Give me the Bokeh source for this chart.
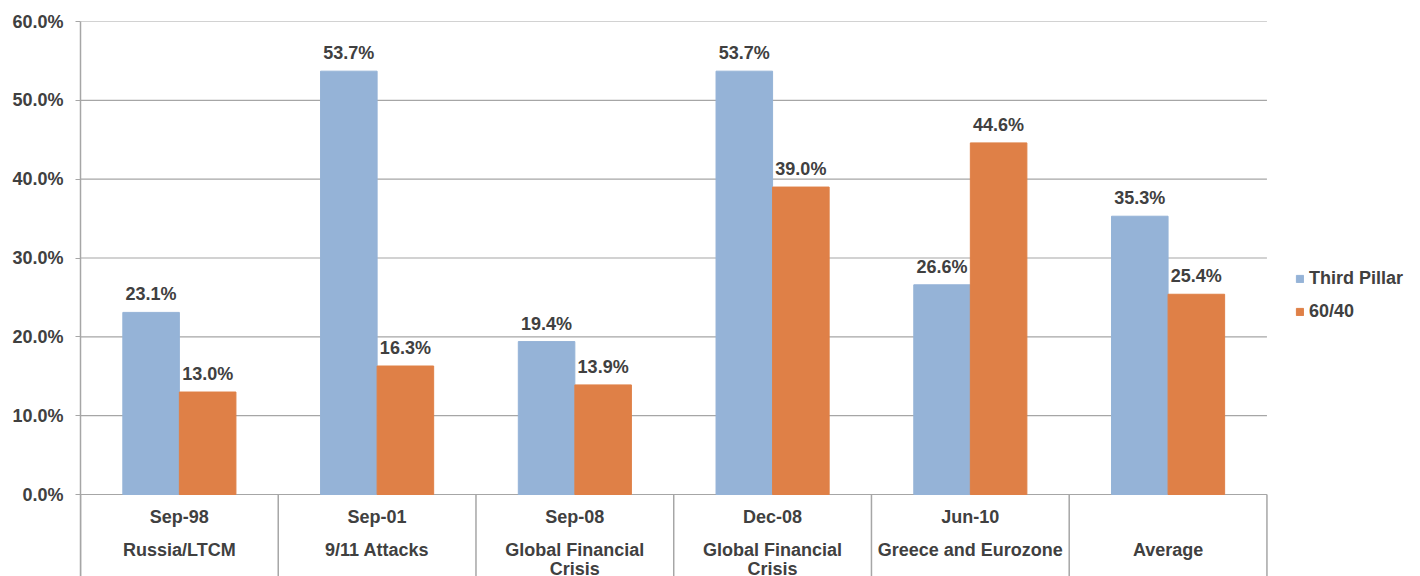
from bokeh.plotting import figure
from bokeh.models import ColumnDataSource, FixedTicker, PrintfTickFormatter, Range1d, Legend, LegendItem
from bokeh.core.properties import value
from bokeh.embed import file_html
from bokeh.resources import INLINE

dates = ["Sep-98", "Sep-01", "Sep-08", "Dec-08", "Jun-10", ""]
events = ["Russia/LTCM", "9/11 Attacks", "Global Financial\nCrisis", "Global Financial\nCrisis",
          "Greece and Eurozone", "Average"]
third_pillar = [23.1, 53.7, 19.4, 53.7, 26.6, 35.3]
sixty_forty = [13.0, 16.3, 13.9, 39.0, 44.6, 25.4]
y_ticks = [0, 10, 20, 30, 40, 50, 60]

FONT = "Liberation Sans"
TXT = "#404040"
GRID = "#a6a6a6"
BLUE = "#95B3D7"
ORANGE = "#DF8047"

n = len(dates)
bw = 0.286
centers = [i + 0.5 for i in range(n)]
y_bottom = -(576 - 494) / (473 / 60.0)
x_end = n * (1420 - 80.5) / (1266.5 - 80.5)

p = figure(width=1420, height=576, output_backend="svg", toolbar_location=None,
           x_range=Range1d(0, x_end), y_range=Range1d(y_bottom, 60),
           x_axis_location=None, min_border_left=80, min_border_right=0,
           min_border_top=21, min_border_bottom=0)
p.outline_line_color = None
p.xgrid.visible = False
p.ygrid.visible = False

# horizontal gridlines over the category span
p.segment(x0=[0] * len(y_ticks), y0=y_ticks, x1=[n] * len(y_ticks), y1=y_ticks,
          line_color=GRID, line_width=1.2)

src = ColumnDataSource(dict(
    xb=[c - bw / 2 for c in centers], xo=[c + bw / 2 for c in centers],
    tp=third_pillar, so=sixty_forty,
    tpl=["%.1f%%" % v for v in third_pillar], sol=["%.1f%%" % v for v in sixty_forty],
    xc=centers, dates=dates,
    ev1=[e.split("\n")[0] for e in events],
    ev2=[e.split("\n")[1] if "\n" in e else "" for e in events],
))

r1 = p.vbar(x="xb", top="tp", bottom=0, width=bw, color=BLUE, source=src)
r2 = p.vbar(x="xo", top="so", bottom=0, width=bw, color=ORANGE, source=src)

common = dict(text_font=value(FONT), text_font_style="bold", text_font_size="18px",
              text_color=TXT, text_align="center", source=src)
p.text(x="xb", y="tp", text="tpl", text_baseline="middle", y_offset=-18, **common)
p.text(x="xo", y="so", text="sol", text_baseline="middle", y_offset=-18, **common)

p.text(x="xc", y=0, text="dates", text_baseline="middle", y_offset=22, **common)
p.text(x="xc", y=0, text="ev1", text_baseline="middle", y_offset=55, **common)
p.text(x="xc", y=0, text="ev2", text_baseline="middle", y_offset=74, **common)

bounds = list(range(n + 1))
p.segment(x0=bounds, y0=[0] * len(bounds), x1=bounds, y1=[y_bottom] * len(bounds),
          line_color=GRID, line_width=1.5)

ax = p.yaxis[0]
ax.ticker = FixedTicker(ticks=y_ticks)
ax.formatter = PrintfTickFormatter(format="%.1f%%")
ax.major_label_text_font = FONT
ax.major_label_text_font_style = "bold"
ax.major_label_text_font_size = "18px"
ax.major_label_text_color = TXT
ax.axis_line_color = GRID
ax.axis_line_width = 1.5
ax.major_tick_line_color = GRID
ax.major_tick_out = 5
ax.major_tick_in = 0
ax.minor_tick_line_color = None
ax.major_label_standoff = 12

legend = Legend(items=[LegendItem(label="Third Pillar", renderers=[r1]),
                       LegendItem(label="60/40", renderers=[r2])],
                location=(1215, 254), orientation="vertical",
                glyph_width=9, glyph_height=9, label_standoff=5,
                label_height=20, spacing=12, padding=0, margin=0,
                border_line_color=None, background_fill_alpha=0,
                label_text_font=FONT, label_text_font_style="bold",
                label_text_font_size="18px", label_text_color=TXT)
p.add_layout(legend, "center")

open("out.html", "w").write(file_html(p, INLINE))
